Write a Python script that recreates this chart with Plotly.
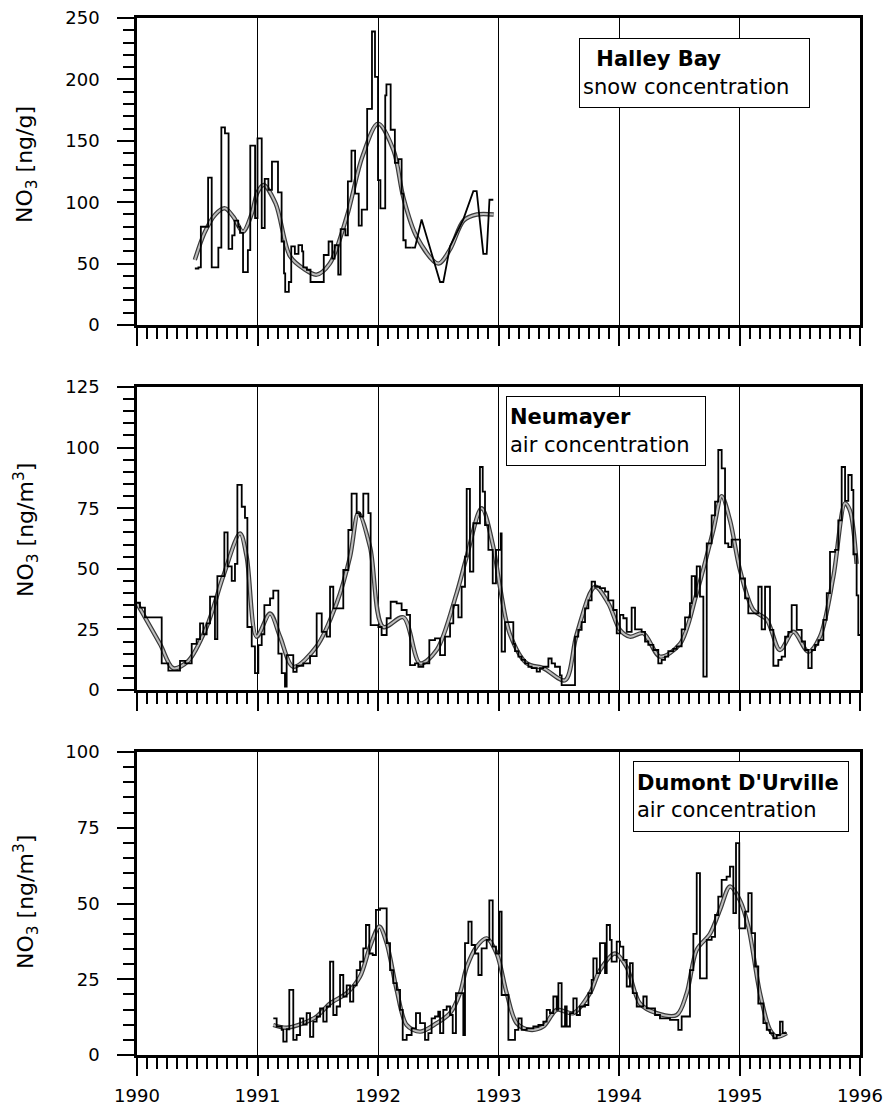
import plotly.graph_objects as go

# ---------------- data ----------------
year_ticks = [1990, 1991, 1992, 1993, 1994, 1995, 1996]
year_tick_labels = ["1990", "1991", "1992", "1993", "1994", "1995", "1996"]

# Halley Bay snow concentration (ng/g) - stepped record
hb_step_year = [1990.48, 1990.51, 1990.53, 1990.59, 1990.62, 1990.675, 1990.70, 1990.73, 1990.76, 1990.79,
                1990.81, 1990.84, 1990.855, 1990.88, 1990.92, 1990.94, 1990.98, 1991.00, 1991.035, 1991.06,
                1991.09, 1991.12, 1991.17, 1991.20, 1991.22, 1991.23, 1991.26, 1991.28, 1991.31, 1991.34,
                1991.37, 1991.38, 1991.41, 1991.44, 1991.55, 1991.59, 1991.62, 1991.64, 1991.67, 1991.69,
                1991.73, 1991.75, 1991.78, 1991.81, 1991.84, 1991.865, 1991.91, 1991.95, 1991.975, 1992.00,
                1992.02, 1992.06, 1992.07, 1992.105, 1992.14, 1992.17, 1992.196, 1992.21, 1992.23, 1992.28]
hb_step_no3 = [46, 47, 80, 120, 47, 63, 161, 156, 62, 73,
               85, 80, 75, 43, 61, 146, 87, 152, 79, 119,
               110, 133, 108, 68, 42, 27, 35, 64, 58, 65,
               60, 47, 45, 35, 57, 68, 54, 65, 41, 78,
               73, 117, 142, 107, 81, 94, 176, 239, 202, 118,
               95, 187, 196, 159, 132, 135, 107, 69, 63, 63]
# Halley Bay - later part of the record drawn with sloping segments
hb_line_year = [1992.28, 1992.307, 1992.362, 1992.473, 1992.515, 1992.542, 1992.598, 1992.708,
                1992.791, 1992.819, 1992.874, 1992.902, 1992.925, 1992.957]
hb_line_no3 = [63, 63, 86, 50, 35, 35, 64, 86, 109, 109, 58, 58, 102, 102]
# Halley Bay smoothed curve
hb_smooth_year = [1990.48, 1990.56, 1990.65, 1990.73, 1990.80, 1990.88, 1990.95, 1991.00, 1991.05, 1991.15,
                  1991.27, 1991.38, 1991.49, 1991.60, 1991.74, 1991.87, 1992.00, 1992.13, 1992.21, 1992.32,
                  1992.50, 1992.60, 1992.71, 1992.82, 1992.96]
hb_smooth_no3 = [53, 75, 90, 95, 88, 76, 90, 108, 114, 99,
                 56, 46, 41, 50, 88, 137, 164, 142, 104, 72,
                 50, 62, 85, 90, 90]

# Neumayer air concentration (ng/m3) - stepped record
nm_step_year = [1990.000, 1990.025, 1990.066, 1990.205, 1990.260, 1990.357, 1990.400, 1990.454, 1990.495, 1990.523,
                1990.550, 1990.578, 1990.606, 1990.647, 1990.667, 1990.725, 1990.752, 1990.786, 1990.813, 1990.833,
                1990.869, 1990.896, 1990.916, 1990.952, 1990.979, 1991.007, 1991.035, 1991.057, 1991.104, 1991.131,
                1991.173, 1991.201, 1991.228, 1991.242, 1991.297, 1991.325, 1991.380, 1991.436, 1991.491, 1991.533,
                1991.574, 1991.602, 1991.629, 1991.712, 1991.754, 1991.781, 1991.823, 1991.851, 1991.878, 1991.920,
                1991.939, 1992.003, 1992.030, 1992.072, 1992.105, 1992.155, 1992.196, 1992.238, 1992.266, 1992.307,
                1992.335, 1992.376, 1992.426, 1992.473, 1992.515, 1992.556, 1992.598, 1992.625, 1992.667, 1992.694,
                1992.722, 1992.736, 1992.763, 1992.791, 1992.846, 1992.869, 1992.888, 1992.916, 1992.952, 1992.979,
                1993.018, 1993.026, 1993.054, 1993.123, 1993.137, 1993.165, 1993.192, 1993.220, 1993.248, 1993.275,
                1993.317, 1993.344, 1993.372, 1993.414, 1993.441, 1993.469, 1993.510, 1993.524, 1993.635, 1993.662,
                1993.690, 1993.718, 1993.746, 1993.773, 1993.801, 1993.842, 1993.884, 1993.911, 1993.953, 1993.981,
                1994.008, 1994.036, 1994.064, 1994.105, 1994.133, 1994.188, 1994.216, 1994.243, 1994.285, 1994.326,
                1994.354, 1994.382, 1994.409, 1994.451, 1994.479, 1994.520, 1994.548, 1994.589, 1994.603, 1994.631,
                1994.645, 1994.672, 1994.700, 1994.728, 1994.769, 1994.797, 1994.824, 1994.852, 1994.880, 1994.907,
                1994.935, 1994.977, 1995.004, 1995.046, 1995.073, 1995.129, 1995.156, 1995.184, 1995.212, 1995.253,
                1995.281, 1995.322, 1995.350, 1995.378, 1995.405, 1995.433, 1995.475, 1995.516, 1995.544, 1995.571,
                1995.599, 1995.627, 1995.654, 1995.696, 1995.724, 1995.751, 1995.793, 1995.820, 1995.848, 1995.876,
                1995.903, 1995.931, 1995.945, 1995.972, 1995.986, 1996.000]
nm_step_no3 = [36, 34, 30, 11, 8, 12, 11, 19, 21, 27.5,
               23, 27.5, 38.5, 21, 47, 65, 51, 45, 52, 84.6,
               75.6, 71, 26, 18, 7, 18.5, 23, 35, 37.8, 41,
               15, 7, 1.4, 14.4, 7.5, 10, 11, 14, 31.6, 24,
               22, 42.6, 33.7, 49.5, 66, 81, 73, 71.5, 81, 73,
               26.8, 26, 22.7, 29.6, 36.4, 35.7, 33, 31, 10.3, 11,
               9.6, 11, 20.6, 21.3, 14.4, 22, 27.5, 35, 30, 42.6,
               55, 83, 48.8, 68.8, 92, 81.8, 68, 57.8, 44, 57.8,
               64.6, 15.8, 28, 19, 16, 13.8, 12.4, 11, 9.6, 9,
               7.6, 9, 9.6, 13, 11, 9.6, 6, 2, 22, 24.8,
               28, 33.7, 37, 44.7, 42.6, 42, 40.6, 37, 33, 23.4,
               31, 29.6, 24, 34, 25, 24, 20, 18.6, 16.5, 11,
               12.4, 13.8, 16, 17, 18, 25, 30, 35.8, 47, 38.5,
               51, 38.5, 5.5, 60.5, 72, 77.7, 99, 91.4, 60.5, 59,
               62, 62, 46, 37.8, 31.6, 31.6, 42.6, 25, 42.6, 24.8,
               10, 12.4, 13.8, 22, 24, 35, 24.8, 20, 16.5, 9,
               16.5, 18.6, 20.6, 28.9, 40, 57, 57.8, 70, 92, 78,
               88.7, 82.5, 56, 39, 22.7, 22.7]
# Neumayer smoothed curve
nm_smooth_year = [1990.000, 1990.191, 1990.301, 1990.426, 1990.578, 1990.716, 1990.855, 1990.910, 1990.993, 1991.104,
                  1991.187, 1991.297, 1991.491, 1991.657, 1991.768, 1991.837, 1991.934, 1992.044, 1992.210, 1992.349,
                  1992.487, 1992.653, 1992.736, 1992.860, 1992.957, 1993.012, 1993.095, 1993.234, 1993.372, 1993.552,
                  1993.649, 1993.801, 1993.911, 1994.008, 1994.091, 1994.202, 1994.340, 1994.506, 1994.645, 1994.783,
                  1994.852, 1994.921, 1995.004, 1995.115, 1995.226, 1995.336, 1995.447, 1995.571, 1995.668, 1995.779,
                  1995.876, 1995.917, 1995.972]
nm_smooth_no3 = [35.8, 19, 9, 12, 26, 47, 64.6, 55, 22, 31.6,
                 22, 9.6, 18, 35.8, 55, 73, 59, 26, 30, 11,
                 16.5, 40, 55, 75, 59, 42.6, 23, 11, 9, 4,
                 23, 42.6, 35.8, 24.8, 22, 23.4, 13.8, 19, 40, 66,
                 80, 70, 49.5, 33, 29, 16.5, 24, 15.8, 22, 46.8,
                 77, 74, 52]

# Dumont D'Urville air concentration (ng/m3) - stepped record
du_step_year = [1991.131, 1991.159, 1991.201, 1991.214, 1991.242, 1991.264, 1991.297, 1991.325, 1991.353, 1991.380,
                1991.408, 1991.436, 1991.463, 1991.491, 1991.519, 1991.546, 1991.574, 1991.602, 1991.629, 1991.657,
                1991.685, 1991.712, 1991.740, 1991.768, 1991.795, 1991.823, 1991.851, 1991.878, 1991.900, 1991.928,
                1991.956, 1991.983, 1992.017, 1992.072, 1992.100, 1992.127, 1992.155, 1992.183, 1992.205, 1992.238,
                1992.279, 1992.315, 1992.349, 1992.390, 1992.418, 1992.445, 1992.473, 1992.500, 1992.515, 1992.542,
                1992.570, 1992.598, 1992.620, 1992.647, 1992.708, 1992.722, 1992.750, 1992.777, 1992.805, 1992.833,
                1992.860, 1992.902, 1992.924, 1992.952, 1992.979, 1993.007, 1993.026, 1993.082, 1993.137, 1993.165,
                1993.192, 1993.234, 1993.289, 1993.331, 1993.372, 1993.400, 1993.427, 1993.455, 1993.483, 1993.497,
                1993.524, 1993.552, 1993.566, 1993.593, 1993.621, 1993.649, 1993.676, 1993.718, 1993.746, 1993.773,
                1993.787, 1993.815, 1993.842, 1993.884, 1993.898, 1993.925, 1993.939, 1993.981, 1994.008, 1994.036,
                1994.064, 1994.091, 1994.114, 1994.147, 1994.202, 1994.230, 1994.299, 1994.340, 1994.423, 1994.492,
                1994.520, 1994.589, 1994.617, 1994.645, 1994.672, 1994.728, 1994.769, 1994.797, 1994.824, 1994.852,
                1994.893, 1994.921, 1994.949, 1994.971, 1994.998, 1995.046, 1995.073, 1995.101, 1995.129, 1995.156,
                1995.198, 1995.226, 1995.253, 1995.281, 1995.309, 1995.336, 1995.358, 1995.392]
du_step_no3 = [12.1, 9.4, 8.3, 4.4, 8.5, 21.5, 5, 6.6, 12.1, 10,
               13.8, 6, 11, 12.7, 15.4, 11, 16, 30.8, 13.2, 16,
               26.4, 19.3, 23, 17.6, 23, 28, 30.8, 35.2, 42.9, 33.5,
               33, 47.9, 48.4, 36.9, 28, 23.7, 21.5, 14.9, 5, 6.6,
               8.8, 13.8, 10.5, 5, 7.2, 12.1, 12.7, 14.3, 7.2, 14.9,
               16, 13.2, 7.2, 20.4, 6.6, 36.9, 44, 36.3, 33.5, 26.4,
               35.2, 38, 51, 35.8, 33.5, 47.3, 19.8, 5, 8.3, 12.1,
               8.3, 8.8, 9.4, 9.9, 11, 14.9, 13.8, 19.3, 14.9, 23.7,
               9.4, 16, 9.4, 13.8, 18.7, 13.2, 16, 16.5, 20.4, 24.8,
               31.9, 27, 36.9, 27, 42.9, 38, 30.8, 37.4, 35.8, 31.4,
               22.6, 30.3, 20.4, 16, 19.3, 15.4, 13.2, 12.1, 11.6, 8.3,
               12.7, 28, 40, 60, 25.3, 38, 39, 46.2, 52.3, 57.8,
               58.9, 62.2, 46.8, 69.9, 41.8, 47.3, 53.4, 40.2, 29.2, 17,
               10.5, 8.3, 7.2, 5.5, 6.6, 11, 7.2, 7.2]
# Dumont D'Urville smoothed curve
du_smooth_year = [1991.131, 1991.242, 1991.380, 1991.491, 1991.602, 1991.740, 1991.851, 1991.934, 1992.011, 1992.072,
                  1992.155, 1992.238, 1992.349, 1992.487, 1992.598, 1992.680, 1992.736, 1992.819, 1992.902, 1992.985,
                  1993.068, 1993.151, 1993.261, 1993.372, 1993.483, 1993.621, 1993.759, 1993.842, 1993.967, 1994.064,
                  1994.174, 1994.313, 1994.479, 1994.562, 1994.645, 1994.755, 1994.838, 1994.921, 1995.004, 1995.073,
                  1995.170, 1995.253, 1995.309, 1995.392]
du_smooth_no3 = [9.9, 9, 10.5, 12.7, 17, 20.4, 25.9, 35.8, 42.4, 36.9,
                 21.5, 9.9, 7.7, 10.5, 13.8, 20.4, 29, 35.8, 38.5, 33.5,
                 20.4, 10.5, 8.3, 9.4, 14.9, 13.8, 20.4, 28, 33.5, 29,
                 17, 13.8, 13.2, 20.4, 34.7, 40, 47.9, 55.6, 51, 42.4,
                 20.4, 8.3, 6, 7.2]

# panel settings: y range, major and minor tick spacing, axis title, station box
panel_ymax = [250, 125, 100]
panel_dtick = [50, 25, 25]
panel_minor = [10, 5, 5]
panel_title = ["NO<sub>3</sub> [ng/g]", "NO<sub>3</sub> [ng/m<sup>3</sup>]", "NO<sub>3</sub> [ng/m<sup>3</sup>]"]
station_name = ["Halley Bay", "Neumayer", "Dumont D'Urville"]
station_kind = ["snow concentration", "air concentration", "air concentration"]

# ---------------- figure ----------------
FONT = "DejaVu Sans"
fig = go.Figure()


def add_station(t_step, v_step, t_sm, v_sm, k, t_lin=None, v_lin=None):
    xa = "x" if k == 0 else f"x{k+1}"
    ya = "y" if k == 0 else f"y{k+1}"
    common = dict(xaxis=xa, yaxis=ya, mode="lines", hoverinfo="skip", showlegend=False)
    fig.add_trace(go.Scatter(x=t_sm, y=v_sm, line=dict(color="#3a3a3a", width=4.4, shape="spline", smoothing=0.9), **common))
    fig.add_trace(go.Scatter(x=t_sm, y=v_sm, line=dict(color="#bdbdbd", width=2.0, shape="spline", smoothing=0.9), **common))
    fig.add_trace(go.Scatter(x=t_step, y=v_step, line=dict(color="black", width=1.8, shape="hv"), **common))
    if t_lin is not None:
        fig.add_trace(go.Scatter(x=t_lin, y=v_lin, line=dict(color="black", width=1.8, shape="linear"), **common))


add_station(hb_step_year, hb_step_no3, hb_smooth_year, hb_smooth_no3, 0, hb_line_year, hb_line_no3)
add_station(nm_step_year, nm_step_no3, nm_smooth_year, nm_smooth_no3, 1)
add_station(du_step_year, du_step_no3, du_smooth_year, du_smooth_no3, 2)

# layout geometry (pixels of the 886x1109 picture)
W, H = 886, 1109
L, R, T, B = 137, 26, 18, 54
plot_h = H - T - B
panel_px = [(18, 325), (387, 690), (752, 1055)]  # top, bottom pixel rows
domains = [[(H - B - bot) / plot_h, (H - B - top) / plot_h] for top, bot in panel_px]

layout = dict(
    width=W, height=H,
    margin=dict(l=L, r=R, t=T, b=B, pad=0, autoexpand=False),
    paper_bgcolor="white", plot_bgcolor="white",
    font=dict(family=FONT, size=18, color="black"),
    showlegend=False,
)

for k in range(3):
    xname = "xaxis" if k == 0 else f"xaxis{k+1}"
    yname = "yaxis" if k == 0 else f"yaxis{k+1}"
    yref = "y" if k == 0 else f"y{k+1}"
    xref = "x" if k == 0 else f"x{k+1}"
    layout[xname] = dict(
        anchor=yref, domain=[0, 1], range=[1990, 1996], automargin=False,
        tickmode="array", tickvals=year_ticks, ticktext=year_tick_labels,
        showticklabels=(k == 2),
        ticks="outside", ticklen=18, tickwidth=2.2, tickcolor="black",
        minor=dict(tickmode="linear", tick0=1990, dtick=1 / 12, ticks="outside", ticklen=11,
                   tickwidth=2.2, tickcolor="black", showgrid=False),
        showline=True, linewidth=2.6, linecolor="black", mirror=True,
        showgrid=True, gridcolor="black", gridwidth=1,
        zeroline=False, fixedrange=True,
        tickfont=dict(family=FONT, size=18, color="black"),
        ticklabelstandoff=5,
    )
    layout[yname] = dict(
        anchor=xref, domain=domains[k], range=[0, panel_ymax[k]], automargin=False,
        tickmode="linear", tick0=0, dtick=panel_dtick[k],
        ticks="outside", ticklen=17, tickwidth=2.2, tickcolor="black",
        minor=dict(tickmode="linear", tick0=0, dtick=panel_minor[k], ticks="outside", ticklen=11,
                   tickwidth=2.2, tickcolor="black", showgrid=False),
        showline=True, linewidth=2.6, linecolor="black", mirror=True,
        showgrid=False, zeroline=False, fixedrange=True,
        tickfont=dict(family=FONT, size=18, color="black"),
        ticklabelstandoff=14,
    )

fig.update_layout(**layout)

# y-axis titles
title_centre_px = [165, 530, 902]
for k in range(3):
    fig.add_annotation(
        text=panel_title[k], textangle=-90, showarrow=False,
        xref="paper", yref="paper",
        x=(26 - L) / (W - L - R), y=(H - B - title_centre_px[k]) / plot_h,
        xanchor="center", yanchor="middle",
        font=dict(family=FONT, size=22, color="black"),
    )

# station boxes: (left px, top px, right px, bottom px, indent)
box_px = [(579, 38, 810, 104, "\u00a0\u00a0"), (506, 396, 706, 462, ""), (633, 761, 849, 828, "")]
for k in range(3):
    left, top, right, bottom, indent = box_px[k]
    ptop, pbot = panel_px[k]
    xref = "x" if k == 0 else f"x{k+1}"
    yref = "y" if k == 0 else f"y{k+1}"
    fig.add_annotation(
        text=f"{indent}<b>{station_name[k]}</b><br>{station_kind[k]}",
        showarrow=False, align="left", valign="middle",
        xref=xref, yref=yref,
        x=1990 + (left - L) / ((W - L - R) / 6),
        y=(pbot - top) / (pbot - ptop) * panel_ymax[k],
        xanchor="left", yanchor="top",
        width=(right - left) - 8, height=(bottom - top) - 4,
        bordercolor="black", borderwidth=1, borderpad=3, bgcolor="white",
        font=dict(family=FONT, size=21, color="black"),
    )

fig.write_html("out.html")
